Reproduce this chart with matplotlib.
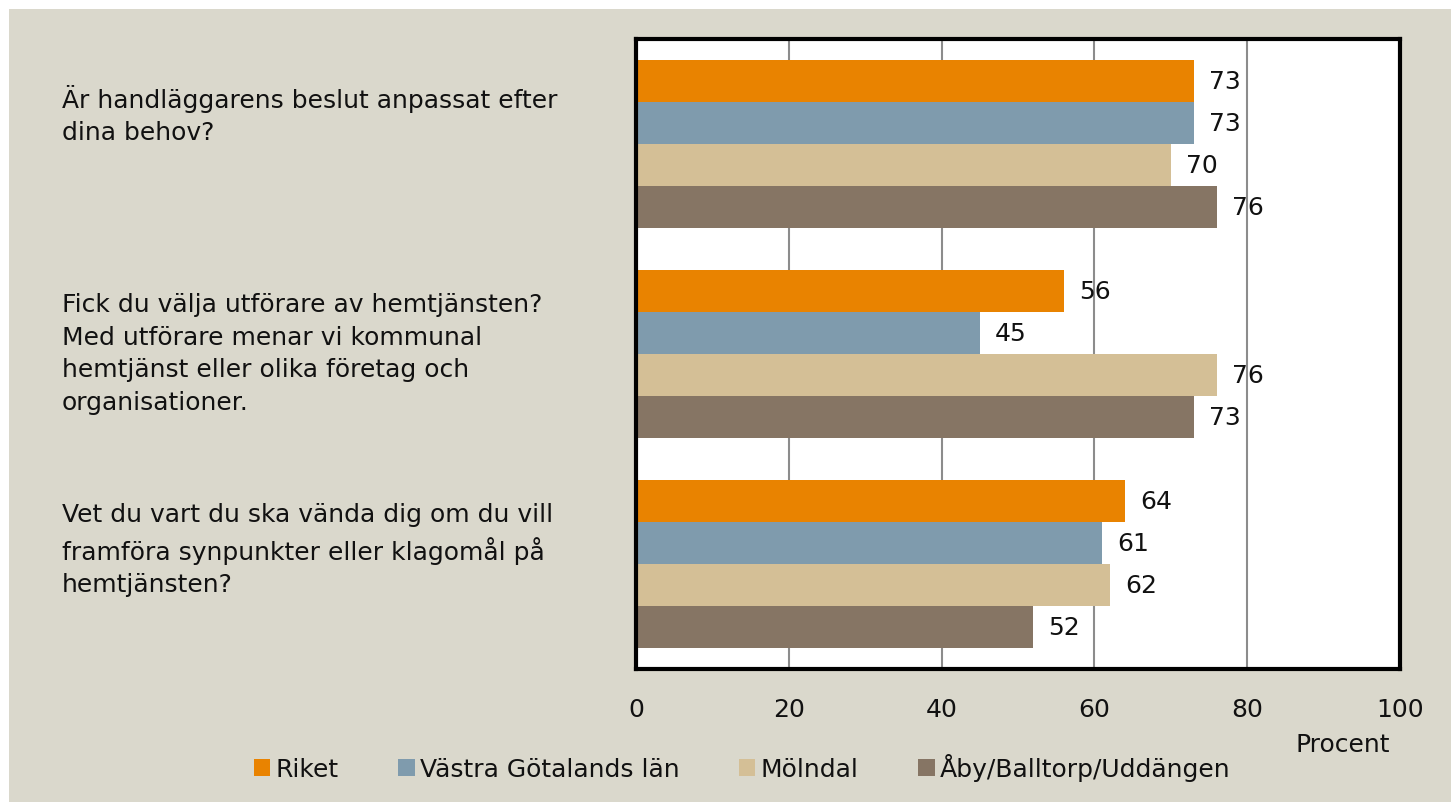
import matplotlib.pyplot as plt
import matplotlib.transforms as mtransforms
from matplotlib.patches import Rectangle
import numpy as np

# Data
questions = [
    "Är handläggarens beslut anpassat efter\ndina behov?",
    "Fick du välja utförare av hemtjänsten?\nMed utförare menar vi kommunal\nhemtjänst eller olika företag och\norganisationer.",
    "Vet du vart du ska vända dig om du vill\nframföra synpunkter eller klagomål på\nhemtjänsten?",
]
series_names = ["Riket", "Västra Götalands län", "Mölndal", "Åby/Balltorp/Uddängen"]
riket = [73, 56, 64]
vastra_gotaland = [73, 45, 61]
molndal = [70, 76, 62]
aby = [76, 73, 52]
x_ticks = [0, 20, 40, 60, 80, 100]

colors = ["#E98300", "#7F9BAD", "#D4BF96", "#867564"]
bg = "#DAD8CC"
font = "DejaVu Sans"
fs = 18

plt.rcParams['font.family'] = [font]

fig = plt.figure(figsize=(14.51, 8.03), dpi=100, facecolor="white")
fig.patches.append(Rectangle((9 / 1451, 0), 1 - 9 / 1451, 1 - 10 / 803,
                             transform=fig.transFigure, facecolor=bg,
                             edgecolor="none", zorder=-10))

ax = fig.add_axes([636 / 1451, 1 - 670 / 803, 764 / 1451, 630 / 803])
ax.set_facecolor("white")

y = np.arange(len(questions))
h = 0.2
all_series = [riket, vastra_gotaland, molndal, aby]
handles = []
for i, (vals, name) in enumerate(zip(all_series, series_names)):
    bars = ax.barh(y - 0.3 + i * h, vals, height=h, color=colors[i],
                   label=name, zorder=2)
    ax.bar_label(bars, padding=11, fontsize=fs, color="#111111")
    handles.append(bars)

ax.set_xlim(0, 100)
ax.set_ylim(2.5, -0.5)
ax.set_xticks(x_ticks)
ax.set_xticklabels([str(t) for t in x_ticks], fontsize=fs, color="#111111")
ax.tick_params(axis='x', length=0, pad=20)
ax.set_yticks([])
ax.grid(axis='x', color="#8C8C8C", linewidth=1.5, zorder=1)
for s in ax.spines.values():
    s.set_linewidth(3)
    s.set_color("black")

# category labels, left aligned
trans = mtransforms.blended_transform_factory(fig.transFigure, ax.transData)
label_y = [-0.143, 0.995, 1.929]
for q, ly in zip(questions, label_y):
    ax.text(62 / 1451, ly, q, transform=trans, ha='left', va='center',
            fontsize=fs, color="#111111", linespacing=1.45)

fig.text(1343 / 1451, 1 - 745 / 803, "Procent", ha='center', va='center',
         fontsize=fs, color="#111111")

fig.legend(handles=handles, labels=series_names, loc='center',
           bbox_to_anchor=(742 / 1451, 1 - 768 / 803), ncol=4, frameon=False,
           fontsize=fs, handlelength=0.65, handleheight=0.65, handletextpad=0.2,
           columnspacing=2.4, labelcolor="#111111")

fig.savefig("out.png", dpi=100, facecolor=fig.get_facecolor())
